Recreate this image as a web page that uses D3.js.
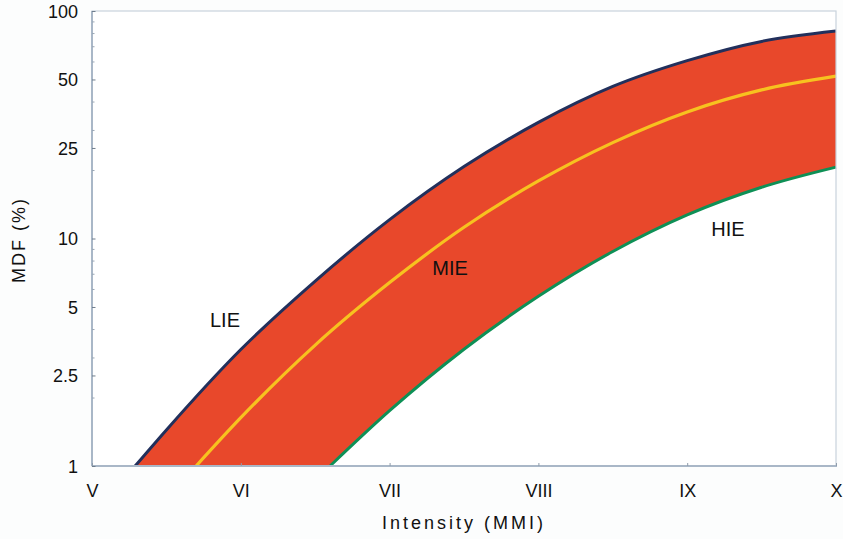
<!DOCTYPE html>
<html>
<head>
<meta charset="utf-8">
<script src="https://cdn.jsdelivr.net/npm/d3@7"></script>
<style>
  html, body { margin: 0; padding: 0; background: #fcfdfd; }
  svg { display: block; }
  text { font-family: "Liberation Sans", Arial, Helvetica, sans-serif; fill: #111; }
</style>
</head>
<body>
<svg id="chart" width="843" height="539"></svg>
<script>
// Intensity levels (MMI) and their roman-numeral tick labels
const intensityTicks = [5, 6, 7, 8, 9, 10];
const intensityLabels = ["V", "VI", "VII", "VIII", "IX", "X"];

// MDF (%) axis ticks: labelled and minor
const mdfTicks = [1, 2.5, 5, 10, 25, 50, 100];
const mdfMinorTicks = [2, 3, 4, 6, 7, 8, 9, 20, 30, 40, 60, 70, 80, 90];

// Low intensity exposure curve (upper bound)
const lieIntensity = [5.29, 5.5, 6.0, 6.5, 7.0, 7.5, 8.0, 8.5, 9.0, 9.5, 10.0];
const lieMDF       = [1.0, 1.44, 3.25, 6.5, 12.1, 20.7, 32.4, 46.6, 60.5, 73.5, 81.6];

// Mean intensity exposure curve
const mieIntensity = [5.70, 6.0, 6.5, 7.0, 7.5, 8.0, 8.5, 9.0, 9.5, 10.0];
const mieMDF       = [1.0, 1.63, 3.4, 6.4, 11.2, 17.9, 26.4, 36.0, 45.0, 51.7];

// High intensity exposure curve (lower bound)
const hieIntensity = [6.6, 7.0, 7.5, 8.0, 8.5, 9.0, 9.5, 10.0];
const hieMDF       = [1.0, 1.75, 3.26, 5.57, 8.77, 12.7, 16.8, 20.6];

// Curve name labels
const curveNames = ["LIE", "MIE", "HIE"];
const labelIntensity = [5.894, 7.406, 9.274];
const labelMDF = [4.38, 7.42, 11.0];

const svg = d3.select("#chart");
const plotLeft = 92, plotRight = 836, plotTop = 11, plotBottom = 466;

const x = d3.scaleLinear().domain([5, 10]).range([plotLeft, plotRight]);
const y = d3.scaleLog().domain([1, 100]).range([plotBottom, plotTop]);

const zip = (xs, ys) => xs.map((v, i) => [v, ys[i]]);
const lie = zip(lieIntensity, lieMDF);
const mie = zip(mieIntensity, mieMDF);
const hie = zip(hieIntensity, hieMDF);

const line = d3.line().x(d => x(d[0])).y(d => y(d[1])).curve(d3.curveMonotoneX);
const areaBelow = d3.area().x(d => x(d[0])).y0(plotBottom + 1).y1(d => y(d[1])).curve(d3.curveMonotoneX);

// Plot background
svg.append("rect").attr("x", plotLeft).attr("y", plotTop)
  .attr("width", plotRight - plotLeft).attr("height", plotBottom - plotTop).attr("fill", "#ffffff");

// Band between the LIE and HIE curves: area under LIE minus area under HIE
const defs = svg.append("defs");
const mask = defs.append("mask").attr("id", "band-mask")
  .attr("maskUnits", "userSpaceOnUse").attr("x", 0).attr("y", 0).attr("width", 843).attr("height", 539);
mask.append("rect").attr("x", 0).attr("y", 0).attr("width", 843).attr("height", 539).attr("fill", "#fff");
mask.append("path").attr("d", areaBelow(hie)).attr("fill", "#000");

svg.append("path")
  .attr("d", areaBelow(lie))
  .attr("fill", "#e8482b")
  .attr("mask", "url(#band-mask)");

// Boundary and mean curves
svg.append("path").attr("d", line(hie)).attr("fill", "none")
  .attr("stroke", "#0e9056").attr("stroke-width", 3);
svg.append("path").attr("d", line(mie)).attr("fill", "none")
  .attr("stroke", "#f7c21f").attr("stroke-width", 3.2);
svg.append("path").attr("d", line(lie)).attr("fill", "none")
  .attr("stroke", "#22305c").attr("stroke-width", 3);

// Frame
const axisColor = "#a9b7c7";
svg.append("rect").attr("x", plotLeft).attr("y", plotTop)
  .attr("width", plotRight - plotLeft).attr("height", plotBottom - plotTop)
  .attr("fill", "none").attr("stroke", "#c9d3dd").attr("stroke-width", 1.2);
svg.append("line").attr("x1", plotLeft).attr("x2", plotLeft).attr("y1", plotTop).attr("y2", plotBottom)
  .attr("stroke", axisColor).attr("stroke-width", 2);
svg.append("line").attr("x1", plotLeft).attr("x2", plotRight + 1).attr("y1", plotBottom).attr("y2", plotBottom)
  .attr("stroke", axisColor).attr("stroke-width", 2);

// Y axis (log) minor ticks
const gyMinor = svg.append("g").attr("transform", `translate(${plotLeft},0)`)
  .call(d3.axisLeft(y).tickValues(mdfMinorTicks).tickFormat("").tickSize(-2.5));
gyMinor.select(".domain").remove();
gyMinor.selectAll(".tick line").attr("stroke", "#9aa7b5");

// Y axis (log) labelled ticks
const yAxis = d3.axisLeft(y).tickValues(mdfTicks).tickFormat(d3.format("")).tickSize(-3.5).tickPadding(14);
const gy = svg.append("g").attr("transform", `translate(${plotLeft},0)`).call(yAxis);
gy.select(".domain").remove();
gy.selectAll(".tick line").attr("stroke", "#6f7d8c");
gy.selectAll(".tick text").attr("font-size", 18).attr("dy", "0.36em");

// X axis
const xAxis = d3.axisBottom(x).tickValues(intensityTicks)
  .tickFormat((d, i) => intensityLabels[i]).tickSize(-3).tickPadding(18);
const gx = svg.append("g").attr("transform", `translate(0,${plotBottom})`).call(xAxis);
gx.select(".domain").remove();
gx.selectAll(".tick line").attr("stroke", "#8f9cab");
gx.selectAll(".tick text").attr("font-size", 18);

// Axis titles
svg.append("text").attr("x", 464).attr("y", 529).attr("text-anchor", "middle")
  .attr("font-size", 18).attr("letter-spacing", 3).text("Intensity (MMI)");
svg.append("text").attr("transform", "translate(25,240) rotate(-90)").attr("text-anchor", "middle")
  .attr("font-size", 18).attr("letter-spacing", 2).text("MDF (%)");

// Curve names
svg.selectAll("text.curve-name").data(curveNames).enter().append("text")
  .attr("class", "curve-name")
  .attr("x", (d, i) => x(labelIntensity[i]))
  .attr("y", (d, i) => y(labelMDF[i]))
  .attr("text-anchor", "middle").attr("dy", "0.36em")
  .attr("font-size", 20).text(d => d);
</script>
</body>
</html>
